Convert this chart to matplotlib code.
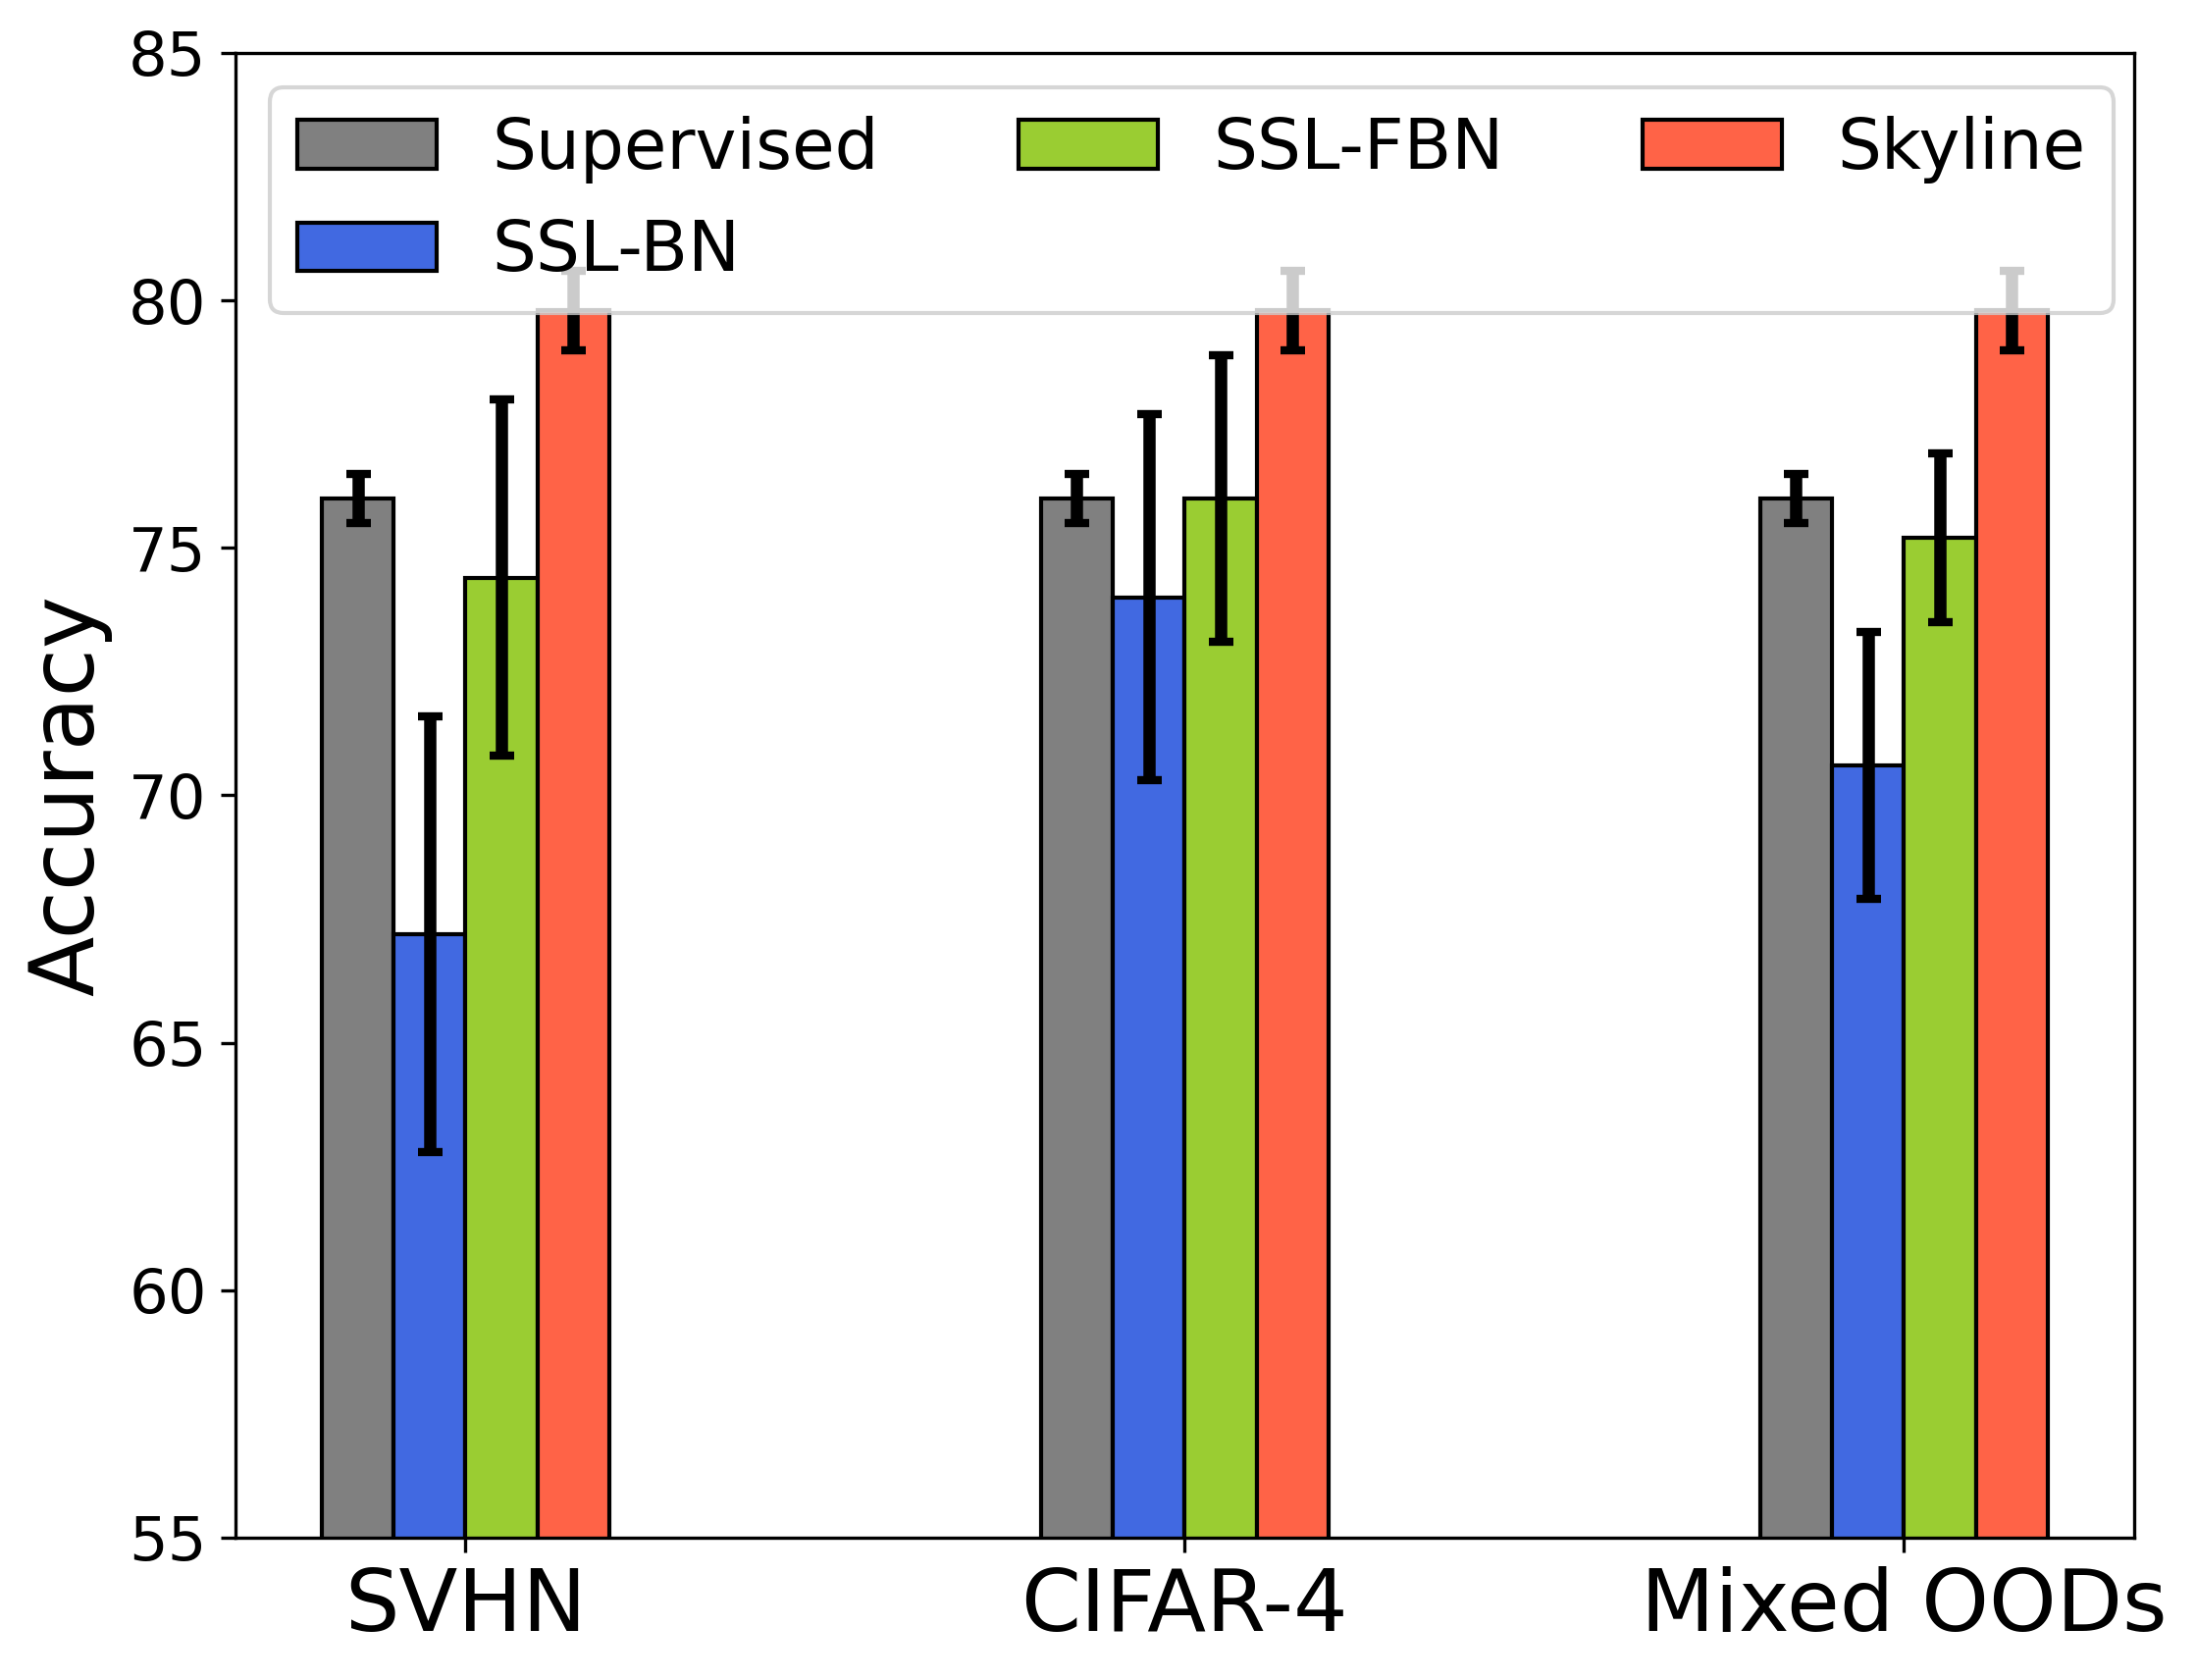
import matplotlib
matplotlib.use("Agg")
import matplotlib.pyplot as plt
import numpy as np

categories = ["SVHN", "CIFAR-4", "Mixed OODs"]
methods = ["Supervised", "SSL-BN", "SSL-FBN", "Skyline"]
colors = ["grey", "royalblue", "yellowgreen", "tomato"]
means = {
    "Supervised": [76.0, 76.0, 76.0],
    "SSL-BN": [67.2, 74.0, 70.6],
    "SSL-FBN": [74.4, 76.0, 75.2],
    "Skyline": [79.8, 79.8, 79.8],
}
errors = {
    "Supervised": [0.5, 0.5, 0.5],
    "SSL-BN": [4.4, 3.7, 2.7],
    "SSL-FBN": [3.6, 2.9, 1.7],
    "Skyline": [0.8, 0.8, 0.8],
}
yticks = [55, 60, 65, 70, 75, 80, 85]

fig = plt.figure(figsize=(2238 / 300, 1712 / 300), dpi=300)
ax = fig.add_axes([0.1072, 0.0847, 0.8646, 0.8838])

x = np.arange(len(categories))
width = 0.1
offsets = [-1.5, -0.5, 0.5, 1.5]
for m, c, o in zip(methods, colors, offsets):
    ax.bar(x + o * width, means[m], width, yerr=errors[m], color=c,
           edgecolor="black", linewidth=1.0, label=m,
           error_kw=dict(elinewidth=3, capsize=3, capthick=2, ecolor="black"))

ax.set_ylim(55, 85)
ax.set_yticks(yticks)
ax.set_xticks(x)
ax.set_xticklabels(categories, fontsize=21)
ax.tick_params(axis="y", labelsize=15)
ax.set_ylabel("Accuracy", fontsize=21.5)
ax.legend(ncol=3, loc="upper center", bbox_to_anchor=(0.5037, 1.0), fontsize=17)

fig.savefig("out.png", dpi=300)
